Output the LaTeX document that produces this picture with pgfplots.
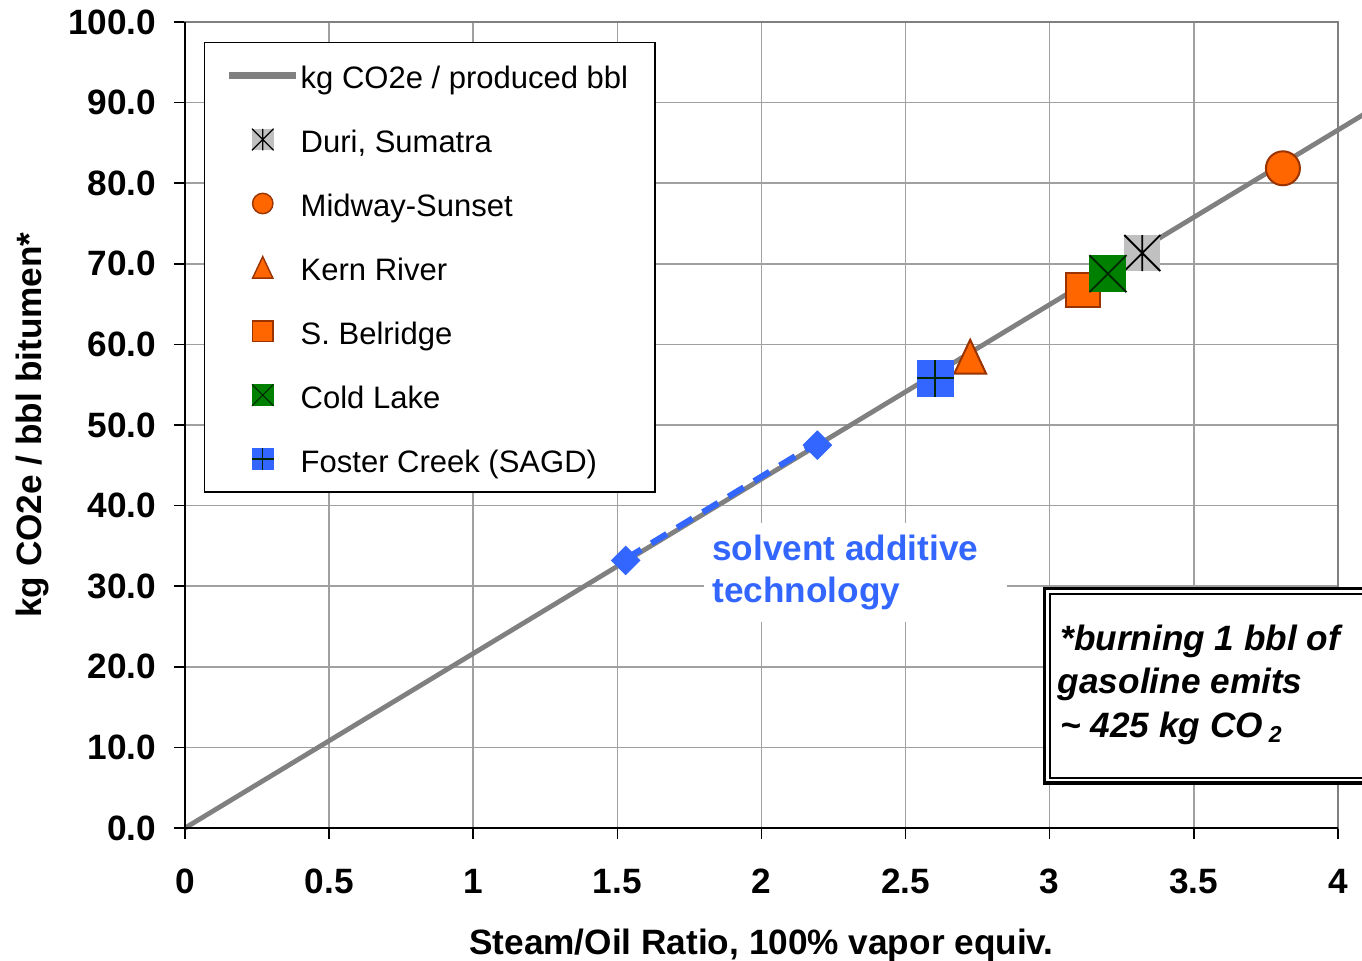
\documentclass[border=0pt]{standalone}
\usepackage{pgfplots}
\pgfplotsset{compat=1.18}
\usepackage{fontspec}
\setmainfont{Liberation Sans}
\definecolor{orangeF}{HTML}{FF6600}
\definecolor{brownB}{HTML}{993300}
\definecolor{greenC}{HTML}{008000}
\definecolor{darkg}{HTML}{002800}
\definecolor{blueF}{HTML}{3366FF}
\definecolor{greyD}{HTML}{C0C0C0}
\definecolor{lineGrey}{HTML}{808080}
\definecolor{gridGrey}{HTML}{A0A0A0}
\definecolor{axGrey}{HTML}{808080}

\pgfdeclareplotmark{sqx}{%
  \pgfpathrectangle{\pgfpoint{-\pgfplotmarksize}{-\pgfplotmarksize}}{\pgfpoint{2\pgfplotmarksize}{2\pgfplotmarksize}}%
  \pgfusepathqfill
  \pgfpathmoveto{\pgfpoint{-\pgfplotmarksize}{-\pgfplotmarksize}}\pgfpathlineto{\pgfpoint{\pgfplotmarksize}{\pgfplotmarksize}}%
  \pgfpathmoveto{\pgfpoint{-\pgfplotmarksize}{\pgfplotmarksize}}\pgfpathlineto{\pgfpoint{\pgfplotmarksize}{-\pgfplotmarksize}}%
  \pgfusepathqstroke}
\pgfdeclareplotmark{sqplus}{%
  \pgfpathrectangle{\pgfpoint{-\pgfplotmarksize}{-\pgfplotmarksize}}{\pgfpoint{2\pgfplotmarksize}{2\pgfplotmarksize}}%
  \pgfusepathqfill
  \pgfpathmoveto{\pgfpoint{-\pgfplotmarksize}{0pt}}\pgfpathlineto{\pgfpoint{\pgfplotmarksize}{0pt}}%
  \pgfpathmoveto{\pgfpoint{0pt}{\pgfplotmarksize}}\pgfpathlineto{\pgfpoint{0pt}{-\pgfplotmarksize}}%
  \pgfusepathqstroke}
\pgfdeclareplotmark{sqast}{%
  \pgfpathrectangle{\pgfpoint{-\pgfplotmarksize}{-\pgfplotmarksize}}{\pgfpoint{2\pgfplotmarksize}{2\pgfplotmarksize}}%
  \pgfusepathqfill
  \pgfpathmoveto{\pgfpoint{-\pgfplotmarksize}{-\pgfplotmarksize}}\pgfpathlineto{\pgfpoint{\pgfplotmarksize}{\pgfplotmarksize}}%
  \pgfpathmoveto{\pgfpoint{-\pgfplotmarksize}{\pgfplotmarksize}}\pgfpathlineto{\pgfpoint{\pgfplotmarksize}{-\pgfplotmarksize}}%
  \pgfpathmoveto{\pgfpoint{0pt}{\pgfplotmarksize}}\pgfpathlineto{\pgfpoint{0pt}{-\pgfplotmarksize}}%
  \pgfusepathqstroke}
\pgfdeclareplotmark{tri}{%
  \pgfpathmoveto{\pgfpoint{0pt}{\pgfplotmarksize}}%
  \pgfpathlineto{\pgfpoint{0.94\pgfplotmarksize}{-\pgfplotmarksize}}%
  \pgfpathlineto{\pgfpoint{-0.94\pgfplotmarksize}{-\pgfplotmarksize}}%
  \pgfpathclose
  \pgfusepathqfillstroke}

\newcommand\ls{\rule[-3.35bp]{0pt}{18bp}}
\newcommand\bigbf{\fontsize{17.6bp}{21bp}\selectfont\bfseries}

\begin{document}
\begin{tikzpicture}
\begin{axis}[
  scale only axis, width=576.5bp, height=403bp,
  xmin=0, xmax=4, ymin=0, ymax=100,
  xtick={0,0.5,1,1.5,2,2.5,3,3.5,4},
  xticklabels={0,0.5,1,1.5,2,2.5,3,3.5,4},
  ytick={0,10,20,30,40,50,60,70,80,90,100},
  yticklabels={0.0,10.0,20.0,30.0,40.0,50.0,60.0,70.0,80.0,90.0,100.0},
  clip=false,
  grid=major,
  major grid style={draw=gridGrey, line width=0.75bp},
  axis line style={draw=axGrey, line width=1bp},
  tick pos=left, tick align=outside,
  major tick length=5.5bp,
  tick style={black, line width=0.75bp},
  ticklabel style={font=\bigbf},
  yticklabel style={anchor=east, inner sep=0pt, xshift=-8.75bp},
  xticklabel style={anchor=north, inner sep=0pt, yshift=-15bp},
  xlabel={Steam/Oil Ratio, 100\% vapor equiv.},
  ylabel={kg CO2e / bbl bitumen*},
  every axis x label/.style={at={(axis description cs:0.5,-0.1572)}, anchor=base, font=\bigbf},
  every axis y label/.style={at={(axis description cs:-0.12446,0.5)}, rotate=90, anchor=base, font=\bigbf},
  legend image code/.code={\draw[mark repeat=2,mark phase=2,#1] plot coordinates {(0bp,0bp) (16.75bp,0bp) (33.5bp,0bp)};},
  legend style={at={(axis cs:0.0659,97.52)}, anchor=north west, draw=black, line width=0.75bp,
    fill=white, font=\fontsize{15.5bp}{18bp}\selectfont, inner xsep=10.5bp, inner ysep=8.4bp,
    row sep=15.8bp, nodes={inner sep=0pt},
    /tikz/every odd column/.append style={column sep=0.5bp}},
  legend cell align=left,
]
% main line
\addplot[lineGrey, line width=2.4bp, forget plot] coordinates {(0,0) (1,21.65) (2,43.3) (3,64.95) (4,86.6) (4.12,89.2)};
% solvent additive segment
\addplot[blueF, line width=3bp, dash pattern=on 9bp off 6bp, forget plot] coordinates {(1.529,33.4) (2.194,47.8)};
\addplot[only marks, mark=square*, mark size=5bp, mark options={rotate=45, fill=blueF, draw=blueF, line width=0.5bp}, forget plot] coordinates {(1.529,33.2) (2.194,47.5)};
% fields
\addplot[only marks, mark=sqast, mark size=9bp, mark options={fill=greyD, draw=black, line width=0.9bp}, forget plot] coordinates {(3.321,71.34)};
\addplot[only marks, mark=*, mark size=8.5bp, mark options={fill=orangeF, draw=brownB, line width=1bp}, forget plot] coordinates {(3.809,81.85)};
\addplot[only marks, mark=tri, mark size=8.5bp, mark options={fill=orangeF, draw=brownB, line width=1bp}, forget plot] coordinates {(2.724,58.47)};
\addplot[only marks, mark=square*, mark size=8.5bp, mark options={fill=orangeF, draw=brownB, line width=1bp}, forget plot] coordinates {(3.114,66.8)};
\addplot[only marks, mark=sqx, mark size=9.25bp, mark options={fill=greenC, draw=darkg, line width=0.9bp}, forget plot] coordinates {(3.202,68.77)};
\addplot[only marks, mark=sqplus, mark size=9.25bp, mark options={fill=blueF, draw=darkg, line width=0.9bp}, forget plot] coordinates {(2.603,55.83)};

\addlegendimage{lineGrey, line width=3.5bp}
\addlegendentry{\ls kg CO2e / produced bbl\rule{3bp}{0pt}}
\addlegendimage{only marks, mark=sqast, mark size=5.4bp, mark options={fill=greyD, draw=black, line width=0.6bp}}
\addlegendentry{\ls Duri, Sumatra}
\addlegendimage{only marks, mark=*, mark size=5.1bp, mark options={fill=orangeF, draw=brownB, line width=0.7bp}}
\addlegendentry{\ls Midway-Sunset}
\addlegendimage{only marks, mark=tri, mark size=5.4bp, mark options={fill=orangeF, draw=brownB, line width=0.7bp}}
\addlegendentry{\ls Kern River}
\addlegendimage{only marks, mark=square*, mark size=5.1bp, mark options={fill=orangeF, draw=brownB, line width=0.7bp}}
\addlegendentry{\ls S. Belridge}
\addlegendimage{only marks, mark=sqx, mark size=5.4bp, mark options={fill=greenC, draw=darkg, line width=0.6bp}}
\addlegendentry{\ls Cold Lake}
\addlegendimage{only marks, mark=sqplus, mark size=5.4bp, mark options={fill=blueF, draw=darkg, line width=0.6bp}}
\addlegendentry{\ls Foster Creek (SAGD)}

% black left and bottom axis lines
\draw[black, line width=1bp] (rel axis cs:0,1) -- (rel axis cs:0,0) -- (rel axis cs:1,0);

% solvent additive label
\fill[white] (axis cs:1.8006,25.56) rectangle (axis cs:2.8517,37.84);
\node[anchor=base west, inner sep=0pt, font=\bigbf, text=blueF] at (axis cs:1.8283,33.25) {solvent additive};
\node[anchor=base west, inner sep=0pt, font=\bigbf, text=blueF] at (axis cs:1.8283,27.92) {technology};

% gasoline note box
\fill[white] (axis cs:2.981,5.87) rectangle (axis cs:4.2,29.69);
\draw[black, line width=1.75bp] (axis cs:4.2,29.69) -- (axis cs:2.981,29.69) -- (axis cs:2.981,5.6) -- (axis cs:4.2,5.6);
\draw[black, line width=1bp] (axis cs:4.2,29.07) -- (axis cs:3.0,29.07) -- (axis cs:3.0,6.2) -- (axis cs:4.2,6.2);
\node[anchor=base west, inner sep=0pt, font=\bigbf\itshape] at (axis cs:3.0356,22.08) {*burning 1 bbl of};
\node[anchor=base west, inner sep=0pt, font=\bigbf\itshape] at (axis cs:3.0269,16.75) {gasoline emits};
\node[anchor=base west, inner sep=0pt, font=\bigbf\itshape] at (axis cs:3.0356,11.17) {\textasciitilde{} 425 kg CO\,\raisebox{-2.5bp}{\fontsize{11.5bp}{13bp}\selectfont 2}};

\coordinate (bbsw) at (axis cs:-0.6418,-16.50);
\coordinate (bbne) at (axis cs:4.0833,102.73);
\end{axis}
\pgfresetboundingbox
\useasboundingbox (bbsw) rectangle (bbne);
\end{tikzpicture}
\end{document}
